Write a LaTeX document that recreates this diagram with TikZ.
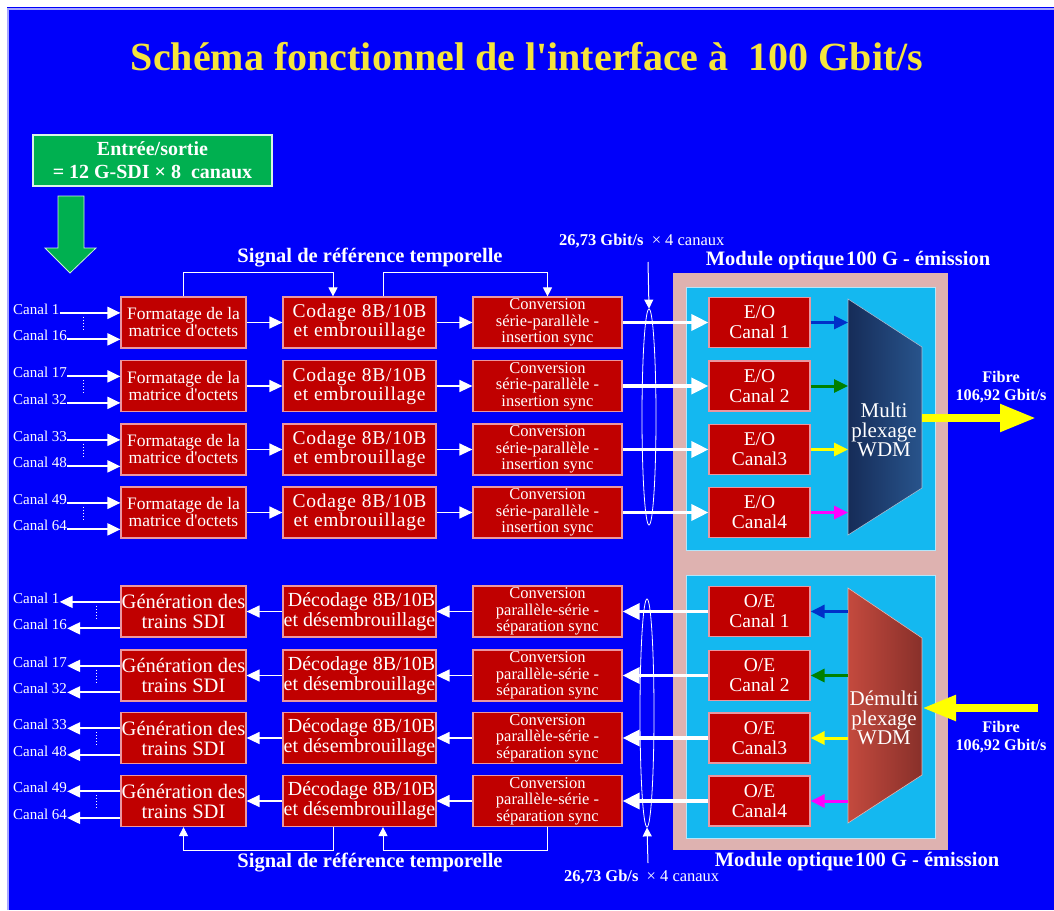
\documentclass[tikz,border=0pt]{standalone}
\usepackage{fontspec}
\setmainfont{Liberation Serif}
\usetikzlibrary{arrows.meta,calc,shapes.geometric}
\definecolor{bgblue}{RGB}{0,0,250}
\definecolor{rboxred}{RGB}{192,0,0}
\definecolor{rboxedge}{RGB}{235,150,160}
\definecolor{gboxc}{RGB}{0,176,80}
\definecolor{titleyel}{RGB}{245,228,60}
\definecolor{pinkc}{RGB}{222,178,176}
\definecolor{cyanc}{RGB}{20,184,240}
\definecolor{muxL}{RGB}{22,44,88}
\definecolor{muxR}{RGB}{40,84,140}
\definecolor{dmxL}{RGB}{196,74,62}
\definecolor{dmxR}{RGB}{136,48,42}
\definecolor{ablue}{RGB}{0,48,200}
\definecolor{agreen}{RGB}{0,128,0}
\definecolor{ayellow}{RGB}{255,255,0}
\definecolor{amag}{RGB}{255,0,255}
\tikzset{
  rbox/.style={draw=rboxedge, line width=1.2pt, fill=rboxred, text=white, inner sep=0pt, align=center, minimum height=51pt},
  fmtbox/.style={rbox, minimum width=125pt, font=\fontsize{17.5}{17}\selectfont},
  codbox/.style={rbox, minimum width=153pt, font=\fontsize{19.5}{19}\selectfont\addfontfeatures{LetterSpace=4}},
  dcdbox/.style={rbox, minimum width=153pt, font=\fontsize{20}{20}\selectfont},
  convbox/.style={rbox, minimum width=149pt, font=\fontsize{16.5}{16.5}\selectfont},
  genbox/.style={rbox, minimum width=125pt, font=\fontsize{20.5}{20}\selectfont},
  eobox/.style={rbox, minimum width=101pt, minimum height=50pt, font=\fontsize{19.5}{20}\selectfont},
  canal/.style={text=white, inner sep=0pt, font=\fontsize{15}{16}\selectfont},
  wlabel/.style={text=white, inner sep=0pt, font=\bfseries\fontsize{20.5}{22}\selectfont},
  flabel/.style={text=white, inner sep=0pt, align=center, font=\bfseries\fontsize{16.2}{18}\selectfont},
  inar/.style={white, line width=2pt, -{Triangle[length=13pt,width=12pt]}},
  midar/.style={white, line width=1.3pt, -{Triangle[length=13pt,width=12pt]}},
  bigar/.style={white, line width=3.5pt, -{Triangle[length=17pt,width=16pt]}},
  refl/.style={white, line width=1pt, -{Triangle[length=9pt,width=9pt]}},
  carr/.style={line width=3pt, -{Triangle[length=14pt,width=13pt]}},
  lens/.style={draw=white, line width=0.8pt, ellipse, inner sep=0pt, minimum width=14pt}
}
\begin{document}
\begin{tikzpicture}[x=1pt,y=-1pt]
\useasboundingbox (0,0) rectangle (1054,910);
% background
\fill[white] (0,0) rectangle (1054,910);
\fill[bgblue] (7,7) rectangle (1054,910);
\draw[blue!35!white, line width=1.5pt] (8,910) -- (8,9) -- (1054,9);

% title
\node[text=titleyel, font=\bfseries\fontsize{40}{44}\selectfont, inner sep=0pt] (title) at (527,57) {Schéma fonctionnel de l\textquotesingle interface à\ \ 100 Gbit/s};

% green box and arrow
\node[draw=white!85!gboxc, line width=1.5pt, fill=gboxc, text=white, align=center, minimum width=239pt, minimum height=51pt, inner sep=0pt, font=\bfseries\fontsize{20}{23}\selectfont] (io) at (152.5,160.5) {Entrée/sortie\\= 12 G-SDI × 8\ \ canaux};
\fill[gboxc, draw=white!80!gboxc, line width=0.8pt] (58,196) -- (84,196) -- (84,248) -- (96,248) -- (70,273) -- (45,248) -- (58,248) -- cycle;

% optical module frame
\fill[pinkc] (673,273) rectangle (948,850);
\fill[cyanc, draw=cyan!30!white, line width=0.8pt] (686,287) rectangle (935,550);
\fill[cyanc, draw=cyan!30!white, line width=0.8pt] (686,575) rectangle (935,838);

% trapezoids
\coordinate (mxTL) at (848,299);
\coordinate (mxTR) at (922,347);
\coordinate (mxBR) at (922,488);
\coordinate (mxBL) at (848,535);
\shade[left color=muxL, right color=muxR, draw=white!60!muxR, line width=0.6pt] (mxTL) -- (mxTR) -- (mxBR) -- (mxBL) -- cycle;
\node[text=white, align=center, inner sep=0pt, font=\fontsize{21}{19.5}\selectfont] (mux) at (884,430) {Multi\\plexage\\WDM};
\coordinate (dmTL) at (848,588);
\coordinate (dmTR) at (922,638);
\coordinate (dmBR) at (922,775);
\coordinate (dmBL) at (848,823);
\shade[left color=dmxL, right color=dmxR, draw=white!60!dmxL, line width=0.6pt] (dmTL) -- (dmTR) -- (dmBR) -- (dmBL) -- cycle;
\node[text=white, align=center, inner sep=0pt, font=\fontsize{21}{19.5}\selectfont] (dmux) at (884,718) {Démulti\\plexage\\WDM};

% lenses
\node[lens, minimum height=216pt] (lens1) at (649,417) {};
\node[lens, minimum height=228pt] (lens2) at (647,713) {};

% top rows
\foreach \i/\y/\ca/\cb/\eo/\col in {1/322.5/1/16/{Canal 1}/ablue, 2/386/17/32/{Canal 2}/agreen, 3/449.5/33/48/{Canal3}/ayellow, 4/512.5/49/64/{Canal4}/amag} {
  \node[fmtbox] (f\i) at (183.5,\y) {Formatage de la\\matrice d\textquotesingle octets};
  \node[codbox] (c\i) at (359.5,\y) {Codage 8B/10B\\et embrouillage};
  \node[convbox] (v\i) at (547.5,\y) {Conversion\\série-parallèle -\\insertion sync};
  \node[eobox] (e\i) at (759.5,\y) {E/O\\\eo};
  \node[canal, anchor=base west] (ia\i) at (13,{\y-8.5}) {Canal \ca};
  \node[canal, anchor=base west] (ib\i) at (13,{\y+18}) {Canal \cb};
  \draw[inar] ([yshift=-4pt]ia\i.east) -- ([yshift=-4pt]ia\i.east -| f\i.west);
  \draw[inar] ([yshift=-4pt]ib\i.east) -- ([yshift=-4pt]ib\i.east -| f\i.west);
  \draw[white, dotted, line width=1pt] (83,{\y-6}) -- (83,{\y+7});
  \draw[midar] (f\i) -- (c\i);
  \draw[midar] (c\i) -- (v\i);
  \draw[bigar] (v\i) -- (e\i);
  \draw[carr, \col] (e\i.east) -- (e\i.east -| mxTL);
}

% bottom rows
\foreach \i/\y/\ca/\cb/\eo/\col in {1/611.5/1/16/{Canal 1}/ablue, 2/675.5/17/32/{Canal 2}/agreen, 3/738/33/48/{Canal3}/ayellow, 4/801/49/64/{Canal4}/amag} {
  \node[genbox] (g\i) at (183.5,\y) {Génération des\\trains SDI};
  \node[dcdbox] (d\i) at (359.5,\y) {\hspace*{4pt}Décodage 8B/10B\\et désembrouillage};
  \node[convbox] (w\i) at (547.5,\y) {Conversion\\parallèle-série -\\séparation sync};
  \node[eobox] (o\i) at (759.5,\y) {O/E\\\eo};
  \node[canal, anchor=base west] (oa\i) at (13,{\y-8.5}) {Canal \ca};
  \node[canal, anchor=base west] (ob\i) at (13,{\y+18}) {Canal \cb};
  \draw[inar] ([yshift=-4pt]oa\i.east -| g\i.west) -- ([yshift=-4pt]oa\i.east);
  \draw[inar] ([yshift=-4pt]ob\i.east -| g\i.west) -- ([yshift=-4pt]ob\i.east);
  \draw[white, dotted, line width=1pt] (96,{\y-6}) -- (96,{\y+7});
  \draw[midar] (d\i) -- (g\i);
  \draw[midar] (w\i) -- (d\i);
  \draw[bigar] (o\i) -- (w\i);
  \draw[carr, \col] (o\i.east -| dmTL) -- (o\i.east);
}

% fibre arrows
\coordinate (fout) at (1036,418);
\coordinate (fin) at (1038,708);
\draw[ayellow, line width=8pt, -{Triangle[length=36pt,width=26pt]}] (922,418) -- (fout);
\draw[ayellow, line width=8pt, -{Triangle[length=34pt,width=24pt]}] (fin) -- (922,708);
\node[flabel] (fib1) at (1001,387) {Fibre\\106,92 Gbit/s};
\node[flabel] (fib2) at (1001,737) {Fibre\\106,92 Gbit/s};

% reference signals
\draw[refl] (f1.north) -- ++(0,-24) -| ([xshift=-26.5pt]c1.north);
\draw[refl] ([xshift=23.5pt]c1.north) -- ++(0,-24) -| (v1.north);
\draw[refl] ([xshift=-26.5pt]d4.south) -- ++(0,23.5) -| (g4.south);
\draw[refl] (w4.south) -- ++(0,23.5) -| ([xshift=23.5pt]d4.south);
\node[wlabel] (sig1) at (370,258) {Signal de référence temporelle};
\node[wlabel] (sig2) at (370,863) {Signal de référence temporelle};

% module labels
\node[wlabel] (mod1) at (848,261) {Module optique\hspace{2pt}100 G - émission};
\node[wlabel] (mod2) at (857,862) {Module optique\hspace{2pt}100 G - émission};

% rates
\node[text=white, inner sep=0pt, anchor=west, font=\fontsize{16.5}{18}\selectfont] (rate1) at (559,241) {\textbf{26,73 Gbit/s}\ \ × 4 canaux};
\node[text=white, inner sep=0pt, anchor=west, font=\fontsize{16.5}{18}\selectfont] (rate2) at (564,877) {\textbf{26,73 Gb/s}\ \ × 4 canaux};
\coordinate (r1s) at (648,262);
\coordinate (r2s) at (648,863);
\draw[refl] (r1s) -- (lens1.north);
\draw[refl] (r2s) -- (lens2.south);
\end{tikzpicture}
\end{document}
